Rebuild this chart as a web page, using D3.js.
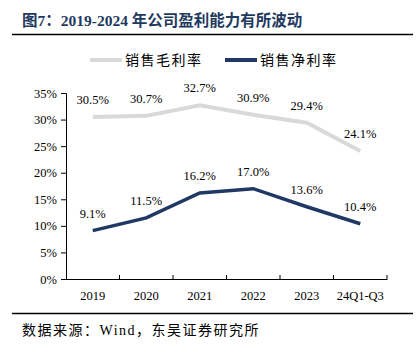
<!DOCTYPE html>
<html>
<head>
<meta charset="utf-8">
<script src="https://cdn.jsdelivr.net/npm/d3@7"></script>
<style>
  body { margin: 0; background: #fff; }
  svg { display: block; }
</style>
</head>
<body>
<div id="chart"></div>
<script>
// data
const years = ["2019", "2020", "2021", "2022", "2023", "24Q1-Q3"];
const grossMargin = [30.5, 30.7, 32.7, 30.9, 29.4, 24.1];
const netMargin = [9.1, 11.5, 16.2, 17.0, 13.6, 10.4];
const yTicks = [0, 5, 10, 15, 20, 25, 30, 35];
const seriesNames = ["销售毛利率", "销售净利率"];

const width = 420;
const height = 351;
const margin = { top: 93, right: 33, bottom: 72, left: 66 };

const navy = "#1f3864";
const grey = "#d9d9d9";
const serif = "'Liberation Serif', 'Times New Roman', serif";
const cjk = "'Noto Sans CJK SC', sans-serif";
const mixed = "'Liberation Serif', 'Noto Sans CJK SC', serif";

const svg = d3.select("#chart")
  .append("svg")
  .attr("width", width)
  .attr("height", height);

// title + rule
svg.append("text")
  .attr("x", 22)
  .attr("y", 26)
  .attr("fill", "#1f3a5f")
  .attr("font-size", 15.5)
  .attr("font-weight", "bold")
  .attr("font-family", mixed)
  .text("图7：2019-2024 年公司盈利能力有所波动");

svg.append("line")
  .attr("x1", 12).attr("x2", 413)
  .attr("y1", 34.5).attr("y2", 34.5)
  .attr("stroke", "#000").attr("stroke-width", 1.5);

// scales
const xScale = d3.scaleBand()
  .domain(years)
  .range([margin.left, width - margin.right]);

const yScale = d3.scaleLinear()
  .domain([0, 35])
  .range([height - margin.bottom, margin.top]);

// axes
const xAxis = d3.axisBottom(xScale).tickSize(0).tickPadding(12);
const gx = svg.append("g")
  .attr("transform", `translate(0,${height - margin.bottom})`)
  .call(xAxis);
gx.select(".domain").attr("stroke", "#000");
gx.selectAll("text")
  .attr("font-family", serif)
  .attr("font-size", 12.5)
  .attr("fill", "#000");

// small tick marks between categories, pointing up
const bounds = years.slice(1).map(d => xScale(d)).concat([xScale.range()[1]]);
svg.append("g")
  .selectAll("line")
  .data(bounds)
  .join("line")
  .attr("x1", d => d).attr("x2", d => d)
  .attr("y1", height - margin.bottom)
  .attr("y2", height - margin.bottom - 4)
  .attr("stroke", "#000");

const yAxis = d3.axisLeft(yScale)
  .tickValues(yTicks)
  .tickSize(5)
  .tickPadding(4)
  .tickFormat(d => d + "%");
const gy = svg.append("g")
  .attr("transform", `translate(${margin.left},0)`)
  .call(yAxis);
gy.select(".domain").attr("stroke", "#000");
gy.selectAll("text")
  .attr("font-family", serif)
  .attr("font-size", 12.5)
  .attr("fill", "#000");

// lines
const line = d3.line()
  .x((d, i) => xScale(years[i]) + xScale.bandwidth() / 2)
  .y(d => yScale(d));

svg.append("path")
  .datum(grossMargin)
  .attr("fill", "none")
  .attr("stroke", grey)
  .attr("stroke-width", 4)
  .attr("d", line);

svg.append("path")
  .datum(netMargin)
  .attr("fill", "none")
  .attr("stroke", navy)
  .attr("stroke-width", 3.5)
  .attr("d", line);

// value labels above points
function addLabels(values) {
  svg.append("g")
    .selectAll("text")
    .data(values)
    .join("text")
    .attr("x", (d, i) => xScale(years[i]) + xScale.bandwidth() / 2)
    .attr("y", d => yScale(d) - 13)
    .attr("text-anchor", "middle")
    .attr("font-family", serif)
    .attr("font-size", 12.5)
    .attr("fill", "#000")
    .text(d => d.toFixed(1) + "%");
}
addLabels(grossMargin);
addLabels(netMargin);

// legend
const legend = [
  { name: seriesNames[0], color: grey, x: 90 },
  { name: seriesNames[1], color: navy, x: 225 }
];
const lg = svg.append("g")
  .selectAll("g")
  .data(legend)
  .join("g")
  .attr("transform", d => `translate(${d.x},60)`);
lg.append("line")
  .attr("x1", 0).attr("x2", 32)
  .attr("stroke", d => d.color)
  .attr("stroke-width", 4);
lg.append("text")
  .attr("x", 35)
  .attr("y", 5)
  .attr("font-family", cjk)
  .attr("font-size", 14)
  .attr("letter-spacing", 1.5)
  .attr("fill", "#000")
  .text(d => d.name);

// bottom rule + source
svg.append("line")
  .attr("x1", 12).attr("x2", 413)
  .attr("y1", 313.5).attr("y2", 313.5)
  .attr("stroke", "#000").attr("stroke-width", 1.5);

svg.append("text")
  .attr("x", 22)
  .attr("y", 335)
  .attr("font-family", mixed)
  .attr("font-size", 14)
  .attr("letter-spacing", 1.5)
  .attr("fill", "#000")
  .text("数据来源：Wind，东吴证券研究所");
</script>
</body>
</html>
